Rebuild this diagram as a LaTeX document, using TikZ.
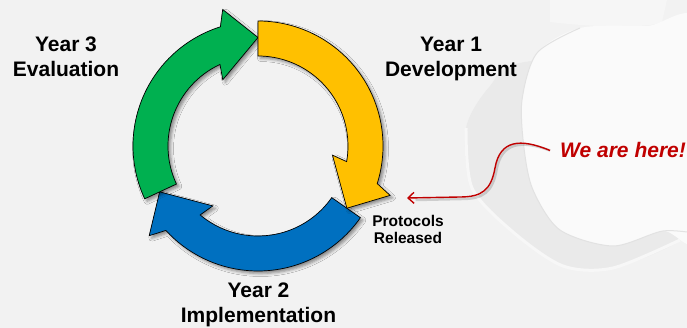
\documentclass[tikz,border=0pt]{standalone}
\usepackage{fontspec}
\setmainfont{Liberation Sans}
\usetikzlibrary{arrows.meta,shadows.blur}
\definecolor{bggrey}{HTML}{F2F2F2}
\definecolor{dipgrey}{HTML}{EAEAEA}
\definecolor{dipedge}{HTML}{F7F7F7}
\definecolor{heartwhite}{HTML}{FAFAFA}
\definecolor{heartedge}{HTML}{E2E2E2}
\definecolor{toppatch}{HTML}{F6F6F6}
\definecolor{cycyellow}{HTML}{FFC000}
\definecolor{cycgreen}{HTML}{00B050}
\definecolor{cycblue}{HTML}{0070C0}
\definecolor{herered}{HTML}{C00000}
% #1 colour, #2 tail angle, #3 tip angle (clockwise arrow)
\newcommand{\cycarrow}[3]{%
  \pgfmathsetmacro{\cyoe}{#3+17.5}%
  \pgfmathsetmacro{\cyob}{#3+14.5}%
  \pgfmathsetmacro{\cyib}{#3+28}%
  \pgfmathsetmacro{\cyie}{#3+25}%
  \draw[cyc, fill=#1] (#2:125) arc[start angle=#2, end angle=\cyoe, radius=125]
    -- (\cyob:141) -- (#3:108.5) -- (\cyib:75) -- (\cyie:90)
    arc[start angle=\cyie, end angle=#2, radius=90] -- cycle;}
\begin{document}
\begin{tikzpicture}[x=1pt,y=1pt,
  cyc/.style={draw=black, line width=0.7pt, line join=miter,
    blur shadow={shadow xshift=2.5pt, shadow yshift=-2.5pt, shadow blur radius=3pt, shadow opacity=45}},
  lbl/.style={font=\bfseries\fontsize{21}{25}\selectfont, align=center, inner sep=0pt, text=black},
  small/.style={font=\bfseries\fontsize{15.5}{17}\selectfont, align=center, inner sep=0pt, text=black},
  here/.style={font=\bfseries\itshape\fontsize{21}{25}\selectfont, text=herered, inner ysep=0pt, inner xsep=10pt},
  pointer/.style={draw=herered, line width=1.4pt, -{Straight Barb[length=6pt,width=11pt]}},
  pointershadow/.style={draw=black, opacity=0.15, line width=2.5pt}
]
\useasboundingbox (0,0) rectangle (687,328);
% background
\fill[bggrey] (0,0) rectangle (687,328);
\fill[toppatch] (550,328) -- (550,306) .. controls (600,300) and (650,300) .. (662,306) -- (667,328) -- cycle;
\fill[dipgrey] plot[smooth cycle, tension=0.5] coordinates {(525,266) (490,242) (466,200) (472,140) (513,96) (563,62) (613,60) (680,88) (700,130) (700,275)};
\draw[dipedge, line width=3pt] plot[smooth, tension=0.5] coordinates {(466,200) (472,140) (513,96) (563,62) (613,60) (680,88)};
\fill[heartwhite] plot[smooth cycle, tension=0.5] coordinates {(524,180) (522,228) (537,275) (580,300) (647,302) (700,302) (700,94) (663,97) (613,82) (560,98) (533,138)};
\draw[heartedge, line width=1pt] plot[smooth, tension=0.5] coordinates {(580,300) (537,275) (522,228) (524,180) (533,138) (560,98) (613,82) (663,97) (700,94)};
% cycle arrows
\begin{scope}[shift={(258,182)}]
  \cycarrow{cycblue}{-35}{-155}
  \cycarrow{cycgreen}{205}{90}
  \cycarrow{cycyellow}{90}{-35}
\end{scope}
% labels (base anchor = baseline of the last line)
\node[lbl, anchor=base] (y3) at (66,251) {Year 3\\Evaluation};
\node[lbl, anchor=base] (y1) at (451,251) {Year 1\\Development};
\node[lbl, anchor=base] (y2) at (258.5,5) {Year 2\\Implementation};
\node[small, anchor=base] (prot) at (408,84) {Protocols\\Released};
\node[here, anchor=base west] (weh) at (550,170) {We are here!};
% pointer
\coordinate (tipp) at (407,130);
\draw[pointershadow, shift={(1.5,-2)}] (weh.west) .. controls (520,190) and (500,188) .. (495,160)
  .. controls (491,138) and (482,131) .. (460,131) -- (414,130);
\draw[pointer] (weh.west) .. controls (520,190) and (500,188) .. (495,160)
  .. controls (491,138) and (482,131) .. (460,131) -- (tipp);
\end{tikzpicture}
\end{document}
